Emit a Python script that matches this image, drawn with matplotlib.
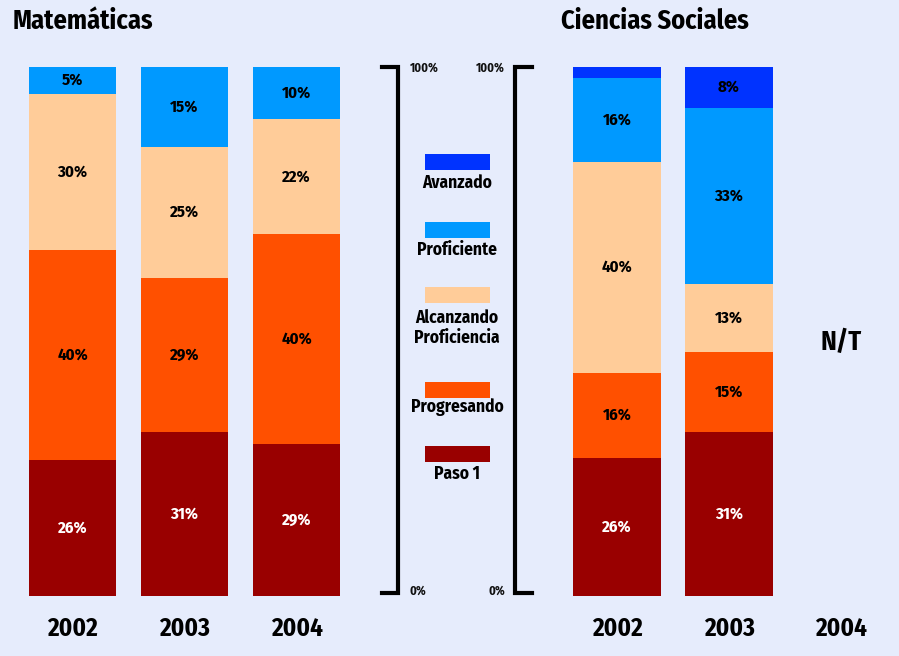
import matplotlib.pyplot as plt
from matplotlib.patches import Rectangle
import numpy as np

plt.rcParams['font.family'] = ['Fira Sans Condensed', 'Roboto Condensed', 'DejaVu Sans']
plt.rcParams['font.weight'] = 'bold'

niveles = ['Paso 1', 'Progresando', 'Alcanzando\nProficiencia', 'Proficiente', 'Avanzado']
colores = ['#990000', '#FF5000', '#FFCC99', '#0099FF', '#0033FF']
txtcol = ['white', 'black', 'black', 'black', 'black']

anios = ['2002', '2003', '2004']
# porcentajes por nivel (Paso 1 ... Avanzado)
mate = {'2002': [25.7, 39.7, 29.5, 5.1, 0],
        '2003': [31.0, 29.1, 24.8, 15.1, 0],
        '2004': [28.7, 39.7, 21.7, 9.9, 0]}
soc = {'2002': [26.1, 16.1, 39.9, 15.9, 2.0],
       '2003': [31.0, 15.1, 12.9, 33.3, 7.7]}

fondo = '#E6ECFC'
W, H = 899, 656
fig = plt.figure(figsize=(W / 100, H / 100), dpi=100, facecolor=fondo)

def ax_px(x0, x1, y0, y1):
    # y0 arriba, y1 abajo, en pixeles desde arriba
    return fig.add_axes([x0 / W, (H - y1) / H, (x1 - x0) / W, (y1 - y0) / H])

def barras(ax, datos):
    for i, a in enumerate(anios):
        if a not in datos:
            ax.text(i, 48, 'N/T', ha='center', va='center', fontsize=19, fontweight='bold')
            continue
        base = 0
        for k, v in enumerate(datos[a]):
            if v == 0:
                continue
            ax.bar(i, v, bottom=base, width=0.78, color=colores[k], linewidth=0)
            if v >= 4:
                ax.text(i, base + v / 2, '%d%%' % round(v), ha='center', va='center',
                        fontsize=12, fontweight='bold', color=txtcol[k])
            base += v
    ax.set_xlim(-0.5, 2.5)
    ax.set_ylim(0, 100)
    ax.set_facecolor('none')
    for s in ax.spines.values():
        s.set_visible(False)
    ax.set_yticks([])
    ax.set_xticks(range(3))
    ax.set_xticklabels(anios, fontsize=18, fontweight='bold')
    ax.tick_params(axis='x', length=0, pad=15)

ax1 = ax_px(16.5, 352.5, 67, 596)
barras(ax1, mate)
ax2 = ax_px(561, 897, 67, 596)
barras(ax2, soc)

# capa para corchetes, leyenda y titulos
ov = fig.add_axes([0, 0, 1, 1])
ov.set_xlim(0, W)
ov.set_ylim(H, 0)
ov.axis('off')
ov.patch.set_alpha(0)

ov.text(13, 21, 'Matemáticas', fontsize=19, fontweight='bold', va='center')
ov.text(561, 21, 'Ciencias Sociales', fontsize=19, fontweight='bold', va='center')

ov.plot([382, 398, 398, 382], [67, 67, 593, 593], color='black', lw=3, solid_joinstyle='miter')
ov.plot([532, 515, 515, 532], [67, 67, 593, 593], color='black', lw=3, solid_joinstyle='miter')
ov.text(410, 68, '100%', fontsize=9, va='center', ha='left', color='#111111')
ov.text(505, 68, '100%', fontsize=9, va='center', ha='right', color='#111111')
ov.text(410, 591, '0%', fontsize=9, va='center', ha='left', color='#111111')
ov.text(505, 591, '0%', fontsize=9, va='center', ha='right', color='#111111')

# leyenda
pos_patch = [446, 382, 287, 222, 154]
pos_txt = [474, 407, 328, 250, 183]
for k in range(5):
    ov.add_patch(Rectangle((425, pos_patch[k]), 65, 16, color=colores[k], lw=0))
    ov.text(457, pos_txt[k], niveles[k], ha='center', va='center', fontsize=12.5,
            fontweight='bold', linespacing=1.15)

fig.savefig('out.png', dpi=100, facecolor=fondo)
